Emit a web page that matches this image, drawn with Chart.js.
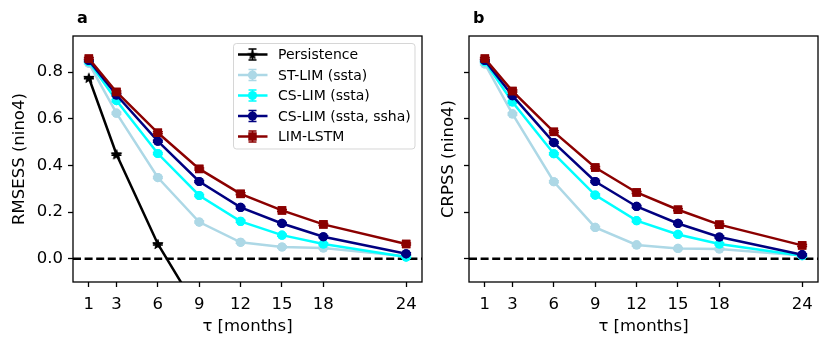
<!DOCTYPE html>
<html><head><meta charset="utf-8">
<script src="https://cdn.jsdelivr.net/npm/chart.js@4"></script>
<style>
html,body{margin:0;padding:0;background:#fff;}
#wrap{position:relative;width:830px;height:346px;}
canvas{position:absolute;left:0;top:0;}
</style></head>
<body><div id="wrap"><canvas id="ca" width="830" height="346"></canvas><canvas id="cb" width="830" height="346"></canvas></div>
<script>
const months = [1, 3, 6, 9, 12, 15, 18, 24];
const xTicks = [1, 3, 6, 9, 12, 15, 18, 24];
const yTicks = [0.0, 0.2, 0.4, 0.6, 0.8];
const seriesNames = ['Persistence', 'ST-LIM (ssta)', 'CS-LIM (ssta)', 'CS-LIM (ssta, ssha)', 'LIM-LSTM'];

// panel a: RMSESS
const persistenceA = [0.776, 0.448, 0.063, -0.23, null, null, null, null];
const stLimA   = [0.838, 0.624, 0.348, 0.157, 0.070, 0.050, 0.046, 0.010];
const csLimA   = [0.845, 0.678, 0.451, 0.271, 0.160, 0.101, 0.063, 0.007];
const csLim2A  = [0.850, 0.702, 0.504, 0.331, 0.220, 0.151, 0.094, 0.021];
const lstmA    = [0.858, 0.715, 0.540, 0.385, 0.278, 0.207, 0.147, 0.063];

// panel b: CRPSS
const stLimB   = [0.835, 0.621, 0.330, 0.134, 0.059, 0.044, 0.042, 0.014];
const csLimB   = [0.845, 0.672, 0.450, 0.273, 0.163, 0.104, 0.063, 0.013];
const csLim2B  = [0.850, 0.699, 0.498, 0.331, 0.224, 0.151, 0.093, 0.017];
const lstmB    = [0.858, 0.719, 0.544, 0.391, 0.284, 0.210, 0.146, 0.057];

const FONT = "'DejaVu Sans', sans-serif";
const colors = ['#000000', '#add8e6', '#00ffff', '#000080', '#8b0000'];
const LW = 2.5;

function starCanvas(r, color) {
  const s = Math.ceil(r * 2 + 2);
  const c = document.createElement('canvas');
  c.width = s; c.height = s;
  const g = c.getContext('2d');
  g.fillStyle = color;
  g.beginPath();
  for (let i = 0; i < 10; i++) {
    const rr = i % 2 === 0 ? r : r * 0.42;
    const a = -Math.PI / 2 + i * Math.PI / 5;
    const px = s / 2 + rr * Math.cos(a), py = s / 2 + 0.6 + rr * Math.sin(a);
    if (i === 0) g.moveTo(px, py); else g.lineTo(px, py);
  }
  g.closePath(); g.fill();
  return c;
}
const star = starCanvas(5.8, '#000');

function pts(arr) { return months.map((m, i) => ({x: m, y: arr[i]})); }

function ds(label, arr, idx, style, radius, order) {
  return {
    label: label, data: pts(arr),
    borderColor: colors[idx], backgroundColor: colors[idx],
    pointBackgroundColor: colors[idx], pointBorderColor: colors[idx],
    borderWidth: LW, pointStyle: style, pointRadius: radius, pointBorderWidth: 0,
    pointHoverRadius: radius, order: order, spanGaps: false, tension: 0
  };
}

const framePlugin = {
  id: 'frame',
  beforeDatasetsDraw(chart) {
    const {ctx, chartArea: a, scales: {y}} = chart;
    const py = y.getPixelForValue(0);
    ctx.save();
    ctx.strokeStyle = '#000'; ctx.lineWidth = LW;
    ctx.setLineDash([8, 3.6]);
    ctx.beginPath(); ctx.moveTo(a.left, py); ctx.lineTo(a.right, py); ctx.stroke();
    ctx.restore();
  },
  afterDatasetDraw(chart, args) {
    const meta = args.meta;
    const d = chart.data.datasets[args.index];
    const ctx = chart.ctx;
    const a = chart.chartArea;
    ctx.save();
    ctx.beginPath(); ctx.rect(a.left, a.top, a.right - a.left, a.bottom - a.top); ctx.clip();
    ctx.strokeStyle = d.borderColor; ctx.fillStyle = d.backgroundColor; ctx.lineWidth = 1.5;
    meta.data.forEach((p, i) => {
      if (d.data[i].y === null || p.skip) return;
      ctx.beginPath();
      ctx.moveTo(p.x - 5, p.y - 1); ctx.lineTo(p.x + 5, p.y - 1);
      ctx.moveTo(p.x - 5, p.y + 1); ctx.lineTo(p.x + 5, p.y + 1);
      ctx.stroke();
      Chart.helpers.drawPoint(ctx, {pointStyle: d.pointStyle, radius: d.pointRadius, borderWidth: 0, rotation: 0}, p.x, p.y);
    });
    ctx.restore();
  },
  afterDatasetsDraw(chart) {
    const {ctx, chartArea: a} = chart;
    ctx.save();
    ctx.strokeStyle = '#000'; ctx.lineWidth = 1.3;
    ctx.strokeRect(a.left, a.top, a.right - a.left, a.bottom - a.top);
    ctx.restore();
  },
  afterDraw(chart) {
    const o = chart.options.plugins.frame;
    const {ctx, chartArea: a} = chart;
    ctx.save();
    ctx.fillStyle = '#000';
    ctx.font = "bold 16px " + FONT;
    ctx.textBaseline = 'alphabetic';
    ctx.fillText(o.letter, a.left + 4, 23);
    if (o.legend) drawLegend(chart);
    ctx.restore();
  }
};

function drawLegend(chart) {
  const ctx = chart.ctx;
  const x0 = 233.5, y0 = 43.5, w = 181.5, h = 105.5, r = 3;
  ctx.save();
  ctx.fillStyle = 'rgba(255,255,255,0.8)';
  ctx.strokeStyle = 'rgba(204,204,204,0.8)';
  ctx.lineWidth = 1;
  ctx.beginPath();
  ctx.roundRect(x0, y0, w, h, r);
  ctx.fill(); ctx.stroke();
  const rows = [54.5, 75, 95.5, 116, 136.5];
  const dsets = chart.data.datasets;
  dsets.forEach((d, i) => {
    const yy = rows[i];
    const c = d.borderColor;
    ctx.strokeStyle = c; ctx.fillStyle = c;
    ctx.lineWidth = LW; ctx.setLineDash([]);
    ctx.beginPath(); ctx.moveTo(238, yy); ctx.lineTo(267.5, yy); ctx.stroke();
    ctx.lineWidth = 1.6;
    ctx.beginPath();
    ctx.moveTo(252.5, yy - 5.5); ctx.lineTo(252.5, yy + 5.5);
    ctx.moveTo(248.5, yy - 5.5); ctx.lineTo(256.5, yy - 5.5);
    ctx.moveTo(248.5, yy + 5.5); ctx.lineTo(256.5, yy + 5.5);
    ctx.stroke();
    Chart.helpers.drawPoint(ctx, {pointStyle: d.pointStyle, radius: d.pointRadius, borderWidth: 0, rotation: 0}, 252.5, yy);
    ctx.fillStyle = '#000';
    ctx.font = "14px " + FONT;
    ctx.textBaseline = 'middle';
    ctx.fillText(seriesNames[i], 278, yy + 1);
  });
  ctx.restore();
}

function makeChart(id, datasets, yTitle, showYLabels, padLeft, padRight, yAxisW, letter, legend) {
  return new Chart(document.getElementById(id), {
    type: 'line',
    data: {datasets: datasets},
    options: {
      responsive: false, animation: false, devicePixelRatio: 1,
      layout: {padding: {left: padLeft, right: padRight, top: 36, bottom: 0}},
      plugins: {legend: {display: false}, tooltip: {enabled: false}, frame: {letter: letter, legend: legend}},
      scales: {
        x: {
          type: 'linear', min: -0.15, max: 25.15,
          afterFit(s) { s.height = 64; },
          afterBuildTicks(s) { s.ticks = xTicks.map(v => ({value: v})); },
          grid: {drawOnChartArea: false, drawTicks: true, tickLength: 5, tickWidth: 1.3, tickColor: '#000'},
          border: {display: false},
          ticks: {color: '#000', font: {family: FONT, size: 16.5}, padding: 8, maxRotation: 0, autoSkip: false,
                  callback: v => String(v)},
          title: {display: true, text: 'τ [months]', color: '#000', font: {family: FONT, size: 16.5}, padding: {top: 0, bottom: 9}}
        },
        y: {
          type: 'linear', min: -0.1, max: 0.955,
          afterFit(s) { s.width = yAxisW; },
          afterBuildTicks(s) { s.ticks = yTicks.map(v => ({value: v})); },
          grid: {drawOnChartArea: false, drawTicks: true, tickLength: 5, tickWidth: 1.3, tickColor: '#000'},
          border: {display: false},
          ticks: {display: showYLabels, color: '#000', font: {family: FONT, size: 16.5}, padding: 5,
                  callback: v => v.toFixed(1)},
          title: {display: true, text: yTitle, color: '#000', font: {family: FONT, size: 16.5}, padding: {top: 10, bottom: 0}}
        }
      }
    },
    plugins: [framePlugin]
  });
}

const dsA = [
  ds(seriesNames[0], persistenceA, 0, star, 5.8, 4),
  ds(seriesNames[1], stLimA, 1, 'circle', 4.6, 3),
  ds(seriesNames[2], csLimA, 2, 'circle', 4.6, 2),
  ds(seriesNames[3], csLim2A, 3, 'circle', 4.6, 1),
  ds(seriesNames[4], lstmA, 4, 'rect', 6, 0)
];
const dsB = [
  ds(seriesNames[1], stLimB, 1, 'circle', 4.6, 3),
  ds(seriesNames[2], csLimB, 2, 'circle', 4.6, 2),
  ds(seriesNames[3], csLim2B, 3, 'circle', 4.6, 1),
  ds(seriesNames[4], lstmB, 4, 'rect', 6, 0)
];

makeChart('ca', dsA, 'RMSESS (nino4)', true, 0, 408, 73, 'a', true);
makeChart('cb', dsB, 'CRPSS (nino4)', false, 429, 12, 40, 'b', false);
</script></body></html>
